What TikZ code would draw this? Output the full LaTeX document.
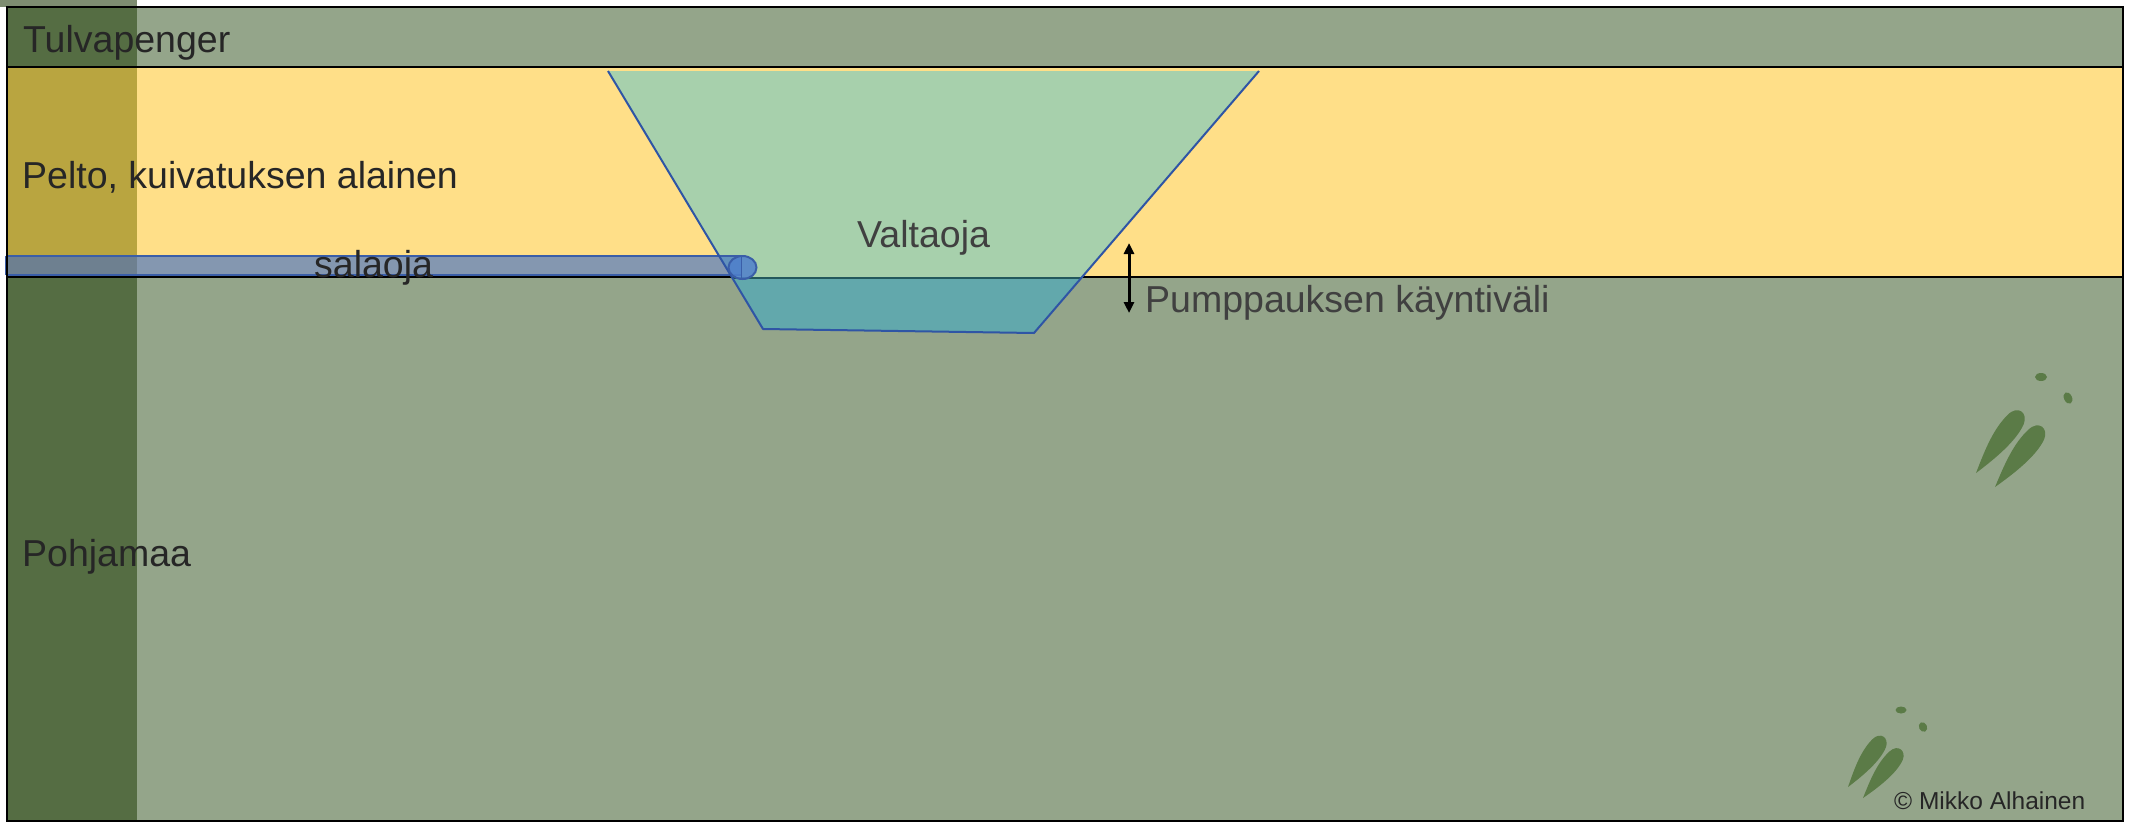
\documentclass[tikz,border=0pt]{standalone}
\usepackage{fontspec}
\setmainfont{Liberation Sans}
\usetikzlibrary{arrows.meta}

\definecolor{bandgrey}{HTML}{94A58A}
\definecolor{fieldyellow}{HTML}{FFDF88}
\definecolor{stripdark}{HTML}{556D43}
\definecolor{stripolive}{HTML}{B9A540}
\definecolor{stripfade}{HTML}{7E8D71}
\definecolor{ditchgreen}{HTML}{A7D0AC}
\definecolor{waterteal}{HTML}{62A8AC}
\definecolor{ditchline}{HTML}{2F55A5}
\definecolor{waterline}{HTML}{23585C}
\definecolor{pipeonfield}{RGB}{132,151,176}
\definecolor{pipeonstrip}{RGB}{110,128,144}
\definecolor{pipeinditch}{RGB}{98,145,189}
\definecolor{pipeline}{HTML}{3A5EA8}
\definecolor{pipeend}{HTML}{4F80CC}
\definecolor{printgreen}{HTML}{5B7B47}
\definecolor{textdark}{HTML}{262626}
\definecolor{textgrey}{HTML}{404040}

% one elongated print of a hoof: #1,#2 tip, #3 direction, #4 length, #5 width
\newcommand\hoofprint[5]{%
  \begin{scope}[shift={(#1,#2)},rotate=#3,x=#4pt,y=#5pt]
    \fill[printgreen] (0,0) .. controls (0.3,0.34) and (0.58,0.66) .. (0.85,0.52)
      .. controls (1.04,0.42) and (1.03,-0.24) .. (0.88,-0.4)
      .. controls (0.65,-0.62) and (0.3,-0.32) .. (0,0) -- cycle;
  \end{scope}}

\begin{document}
\begin{tikzpicture}[x=1pt,y=-1pt,
  layertext/.style={inner sep=0pt, anchor=base west,
    font=\fontsize{37.5}{40}\selectfont, text=textdark},
  notetext/.style={layertext, text=textgrey},
  bandline/.style={draw=black, line width=2pt},
  ditchedge/.style={draw=ditchline, line width=2pt, line join=round},
  rangearrow/.style={draw=black, line width=3pt,
    {Triangle[width=10pt,length=11pt]}-{Triangle[width=10pt,length=11pt]}}]
\useasboundingbox (0,0) rectangle (2138,822);

% soil layers
\fill[bandgrey] (7,7) rectangle (2123,67);
\fill[fieldyellow] (7,67) rectangle (2123,277);
\fill[bandgrey] (7,277) rectangle (2123,821);

% dark vertical strip at the left
\fill[stripfade] (0,0) rectangle (137,7);
\fill[stripdark] (7,7) rectangle (137,67);
\fill[stripolive] (7,67) rectangle (137,277);
\fill[stripdark] (7,277) rectangle (137,821);

% layer boundaries
\draw[bandline] (7,67) -- (2123,67);
\draw[bandline] (7,277) -- (2123,277);

% main ditch and the water in it
\fill[ditchgreen] (608,71) -- (1259,71) -- (1081,278) -- (732,278) -- cycle;
\fill[waterteal] (732,278) -- (1081,278) -- (1034,333) -- (763,329) -- cycle;
\draw[waterline, line width=1.5pt] (732,278) -- (1081,278);

% subsurface drain pipe
\fill[pipeonstrip] (6,256) rectangle (137,275);
\fill[pipeonfield] (137,256) rectangle (742,275);
\begin{scope}
  \clip (608,71) -- (1259,71) -- (1081,278) -- (732,278) -- cycle;
  \fill[pipeinditch] (600,256) rectangle (742,275);
\end{scope}
\draw[pipeline, line width=2pt] (6,256) -- (742,256);
\draw[pipeline, line width=2pt] (6,275) -- (742,275);
\draw[pipeline, line width=2pt] (6,256) -- (6,275);

% ditch slopes
\draw[ditchedge] (608,71) -- (763,329) -- (1034,333) -- (1259,71);

% pipe outlet
\fill[pipeend, fill opacity=0.85] (742.5,267.5) ellipse [x radius=14pt, y radius=11.5pt];
\draw[pipeline, line width=2pt] (742.5,267.5) ellipse [x radius=14pt, y radius=11.5pt];
\draw[pipeline, line width=1pt] (741,256.5) -- (741,278.5);

% pumping range
\coordinate (pumptop) at (1129,243);
\coordinate (pumpbot) at (1129,313);
\draw[rangearrow] (pumptop) -- (pumpbot);

% animal tracks
\hoofprint{1976}{473}{52.4}{77}{20}
\hoofprint{1995}{487}{50.8}{77}{20}
\fill[printgreen] (2041,377) ellipse [x radius=6pt, y radius=4pt];
\fill[printgreen, rotate around={25:(2068,398)}] (2068,398) ellipse [x radius=4pt, y radius=6pt];
\hoofprint{1848}{787}{53.5}{62}{17}
\hoofprint{1863}{798}{50.9}{62}{17}
\fill[printgreen] (1901,710) ellipse [x radius=5.5pt, y radius=3.5pt];
\fill[printgreen, rotate around={25:(1923,727)}] (1923,727) ellipse [x radius=4pt, y radius=5pt];

% outer frame
\draw[black, line width=2pt] (7,7) rectangle (2123,821);

% labels
\node[layertext] (flood) at (23,52) {Tulvapenger};
\node[layertext] (field) at (22,188) {Pelto, kuivatuksen alainen};
\node[layertext] (subsoil) at (22,566) {Pohjamaa};
\node[layertext] (drain) at (314,277) {salaoja};
\node[notetext] (ditch) at (857,247) {Valtaoja};
\node[notetext] (pumping) at (1145,312) {Pumppauksen käyntiväli};
\node[inner sep=0pt, anchor=base west, font=\fontsize{24.5}{26}\selectfont,
  text=textdark] (author) at (1894,809) {© Mikko Alhainen};
\end{tikzpicture}
\end{document}
